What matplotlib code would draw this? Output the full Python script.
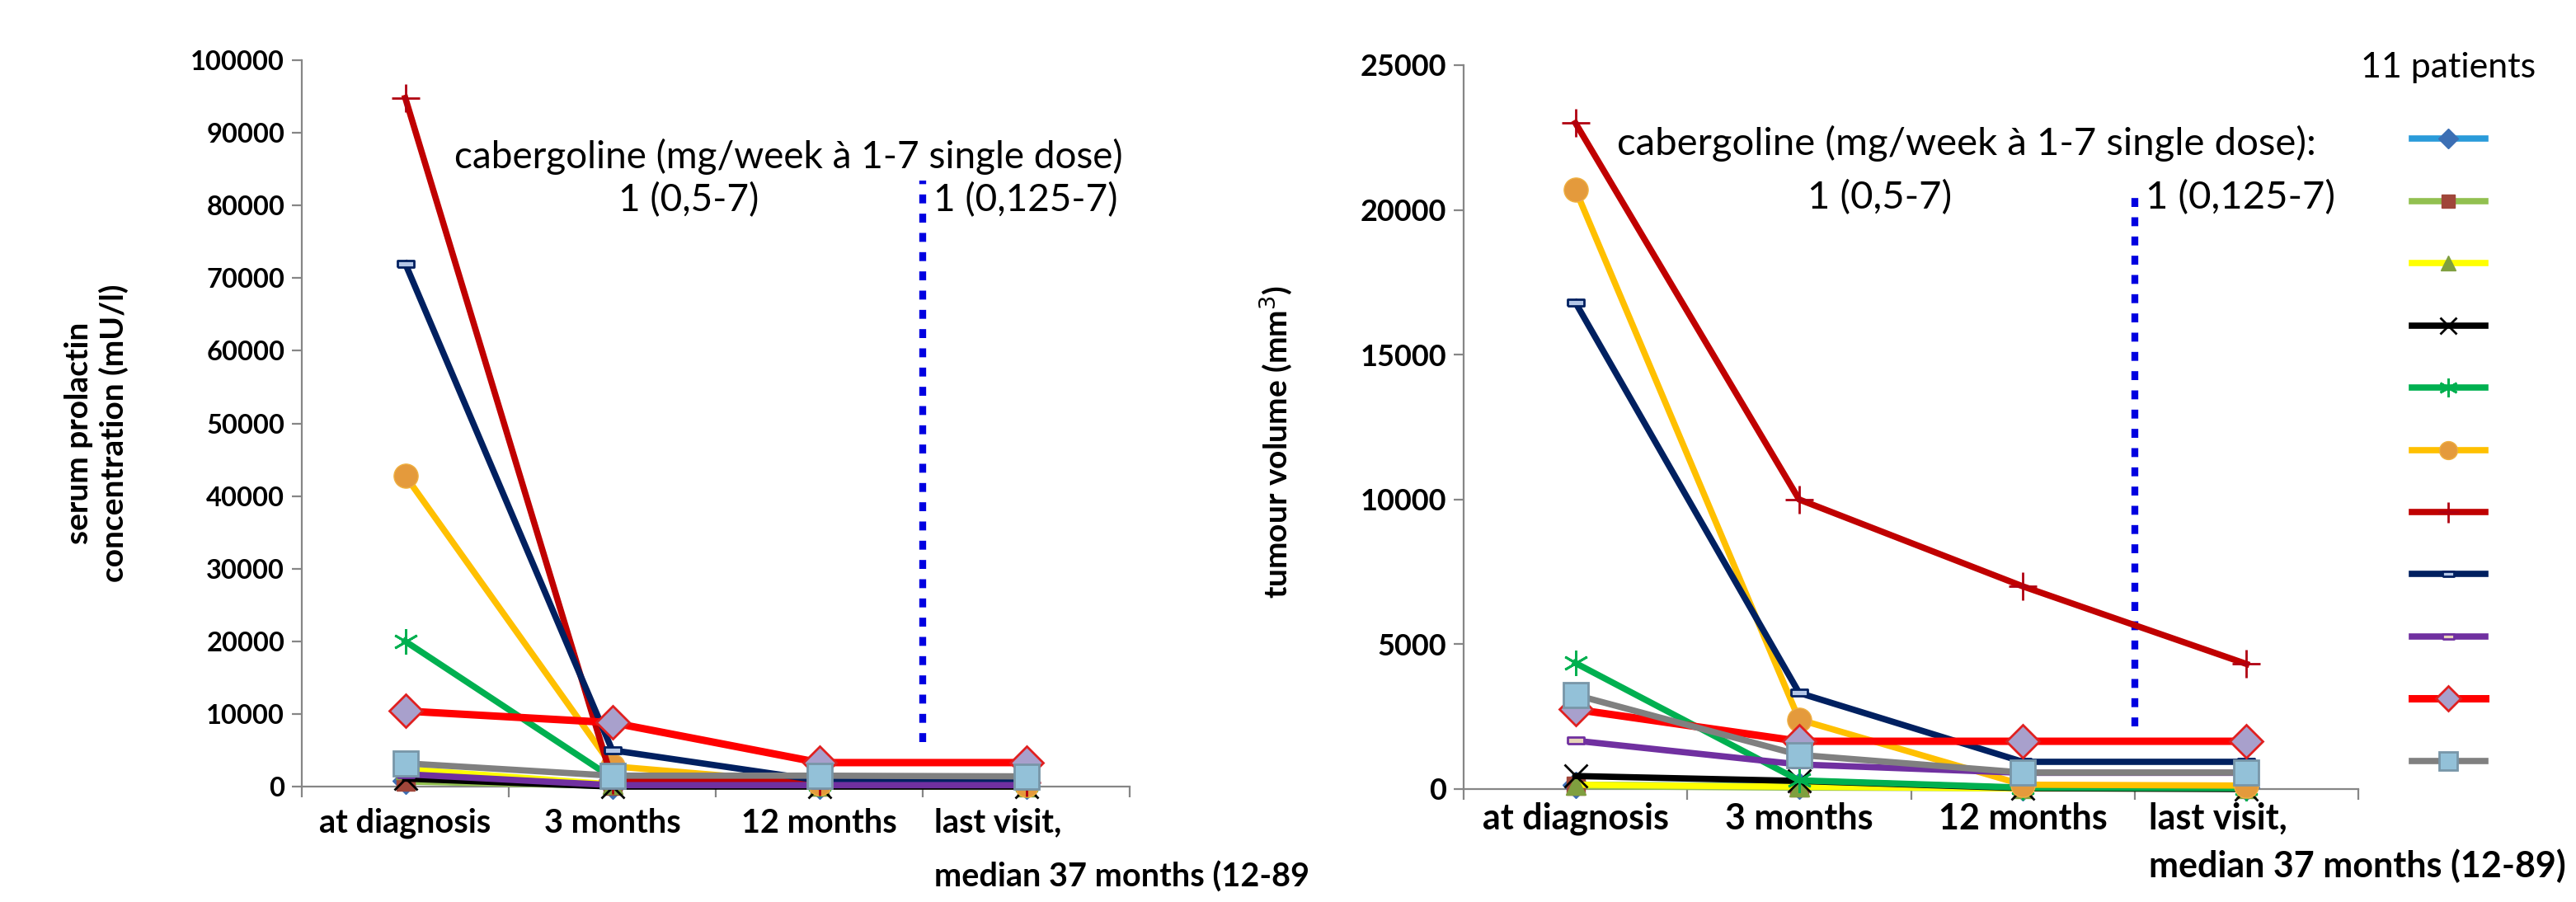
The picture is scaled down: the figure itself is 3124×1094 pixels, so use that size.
import matplotlib
matplotlib.use("Agg")
import matplotlib.pyplot as plt
import matplotlib.transforms as mtransforms
import numpy as np

plt.rcParams["font.family"] = ["Lato", "DejaVu Sans"]

# categories on the x axis
categories = ["at diagnosis", "3 months", "12 months", "last visit,\nmedian 37 months (12-89)"]

# serum prolactin (mU/l), one list per patient
prolactin = [
    [800, 100, 100, 100],
    [700, 100, 50, 50],
    [2400, 300, 100, 50],
    [1100, 0, 0, 0],
    [20000, 1200, 300, 200],
    [42800, 2800, 400, 200],
    [94800, 900, 700, 600],
    [72000, 5000, 850, 650],
    [1700, 200, 200, 200],
    [10400, 8800, 3300, 3300],
    [3200, 1500, 1500, 1400],
]

# tumour volume (mm3), one list per patient
volume = [
    [150, 100, 50, 50],
    [100, 50, 30, 30],
    [150, 80, 20, 20],
    [450, 280, 30, 0],
    [4350, 300, 50, 30],
    [20700, 2400, 150, 120],
    [23000, 10000, 7000, 4320],
    [16800, 3320, 940, 940],
    [1670, 850, 560, 560],
    [2750, 1650, 1650, 1650],
    [3250, 1180, 570, 570],
]

# dotted line marking the dose change (x position, y start, y end)
dose_x = 2.5
dose_left = (6100, 83400)
dose_right = (2150, 20750)

rect = [(-1, -0.38), (1, -0.38), (1, 0.38), (-1, 0.38), (-1, -0.38)]
styles = [
    dict(color="#2A9BDA", marker="D", mfc="#3C6FB4", mec="#3C6FB4", ms=16, lw=5.5),
    dict(color="#92C050", marker="s", mfc="#A0463A", mec="#A0463A", ms=16, lw=5.5),
    dict(color="#FFFF00", marker="^", mfc="#7F9F3F", mec="#7F9F3F", ms=17, lw=5.5),
    dict(color="#000000", marker="x", mfc="none", mec="#000000", ms=20, mew=2, lw=5.5),
    dict(color="#00B050", marker=(6, 2, 0), mfc="none", mec="#00B050", ms=22, mew=2, lw=5.5),
    dict(color="#FFC000", marker="o", mfc="#E49A3C", mec="#F0B040", ms=21, lw=5.5),
    dict(color="#C00000", marker="+", mfc="none", mec="#B00010", ms=24, mew=2, lw=5.5),
    dict(color="#002060", marker=rect, mfc="#B4C7E7", mec="#002060", ms=14, mew=2, lw=5.5),
    dict(color="#7030A0", marker=rect, mfc="#E6D3B8", mec="#7030A0", ms=14, mew=2, lw=5.5),
    dict(color="#FF0000", marker="D", mfc="#A8A0CC", mec="#E02020", ms=20, mew=2, lw=6.5),
    dict(color="#808080", marker="s", mfc="#93C1D8", mec="#7896A8", ms=22, mew=2, lw=5.5),
]

W, H = 3124, 1094
fig = plt.figure(figsize=(W / 100, H / 100), dpi=100)
ax1 = fig.add_axes([366 / W, (H - 954) / H, 1004 / W, 881 / H])
ax2 = fig.add_axes([1775 / W, (H - 957) / H, 1085 / W, 878 / H])

x = np.arange(len(categories))
grey = "#868686"

right_lines = []
for i in range(len(prolactin)):
    st = styles[i]
    ax1.plot(x, prolactin[i], clip_on=False, zorder=3 + i, **st)
    ln, = ax2.plot(x, volume[i], clip_on=False, zorder=3 + i, **st)
    right_lines.append(ln)

ax1.vlines(dose_x, dose_left[0], dose_left[1], color="#0000E0", lw=6,
           linestyles=(0, (1.3, 1.5)), zorder=2)
ax2.vlines(dose_x, dose_right[0], dose_right[1], color="#0000E0", lw=6,
           linestyles=(0, (1.3, 1.5)), zorder=2)

for ax, top, step in [(ax1, 100000, 10000), (ax2, 25000, 5000)]:
    ax.set_xlim(-0.5, 3.5)
    ax.set_ylim(0, top)
    ax.set_yticks(np.arange(0, top + 1, step))
    for s in ["top", "right"]:
        ax.spines[s].set_visible(False)
    for s in ["left", "bottom"]:
        ax.spines[s].set_color(grey)
        ax.spines[s].set_linewidth(1.6)
    ax.set_xticks(np.arange(-0.5, 4, 1))
    ax.set_xticklabels([])
    ax.tick_params(axis="x", length=9, width=1.6, color=grey)
    ax.tick_params(axis="y", length=9, width=1.6, color=grey, pad=6)
    for lab in ax.get_yticklabels():
        lab.set_fontweight("bold")
    ax.patch.set_alpha(0)

ax1.tick_params(axis="y", labelsize=23.5)
ax2.tick_params(axis="y", labelsize=26)

# category labels (the left one is cut off by the right panel in the original)
clip = mtransforms.Bbox([[0, 0], [1587, H]])
for ax, y1, y2, fs, lx in [(ax1, -0.05, -0.124, 28.5, 2.556), (ax2, -0.041, -0.106, 31, 2.564)]:
    tr = mtransforms.blended_transform_factory(ax.transData, ax.transAxes)
    for i, c in enumerate(categories[:3]):
        ax.text(x[i], y1, c, transform=tr, ha="center", va="center",
                fontsize=fs, fontweight="bold")
    first, second = categories[3].split("\n")
    ax.text(lx, y1, first, transform=tr, ha="left", va="center",
            fontsize=fs, fontweight="bold")
    t = ax.text(lx, y2, second, transform=tr, ha="left", va="center",
                fontsize=fs, fontweight="bold")
    t.set_clip_path(None)
    if ax is ax1:
        t.set_clip_box(clip)
        t.set_clip_on(True)
    else:
        t.set_clip_on(False)

# annotations
ax1.text(0.184, 0.867, "cabergoline (mg/week à 1-7 single dose)", transform=ax1.transAxes,
         ha="left", va="center", fontsize=33)
ax1.text(0.467, 0.807, "1 (0,5-7)", transform=ax1.transAxes, ha="center", va="center", fontsize=33)
ax1.text(0.763, 0.807, "1 (0,125-7)", transform=ax1.transAxes, ha="left", va="center", fontsize=33)

ax2.text(0.171, 0.892, "cabergoline (mg/week à 1-7 single dose):", transform=ax2.transAxes,
         ha="left", va="center", fontsize=34)
ax2.text(0.465, 0.817, "1 (0,5-7)", transform=ax2.transAxes, ha="center", va="center", fontsize=34)
ax2.text(0.762, 0.817, "1 (0,125-7)", transform=ax2.transAxes, ha="left", va="center", fontsize=34)

# axis titles
fig.text(117 / W, (H - 525) / H, "serum prolactin\nconcentration (mU/l)", rotation=90,
         ha="center", va="center", fontsize=28, fontweight="bold", linespacing=1.2)
fig.text(1547 / W, (H - 536) / H, "tumour volume (mm$^3$)", rotation=90,
         ha="center", va="center", fontsize=28, fontweight="bold")

fig.text(3075 / W, (H - 82) / H, "11 patients", ha="right", va="center", fontsize=31)

fig.legend(right_lines, [""] * len(right_lines), loc="upper left",
           bbox_to_anchor=(2925 / W, (H - 157) / H), frameon=False, fontsize=20,
           handlelength=3.2, handletextpad=0, borderpad=0, borderaxespad=0,
           labelspacing=1.78, markerscale=0.75)

fig.savefig("out.png", dpi=100)
